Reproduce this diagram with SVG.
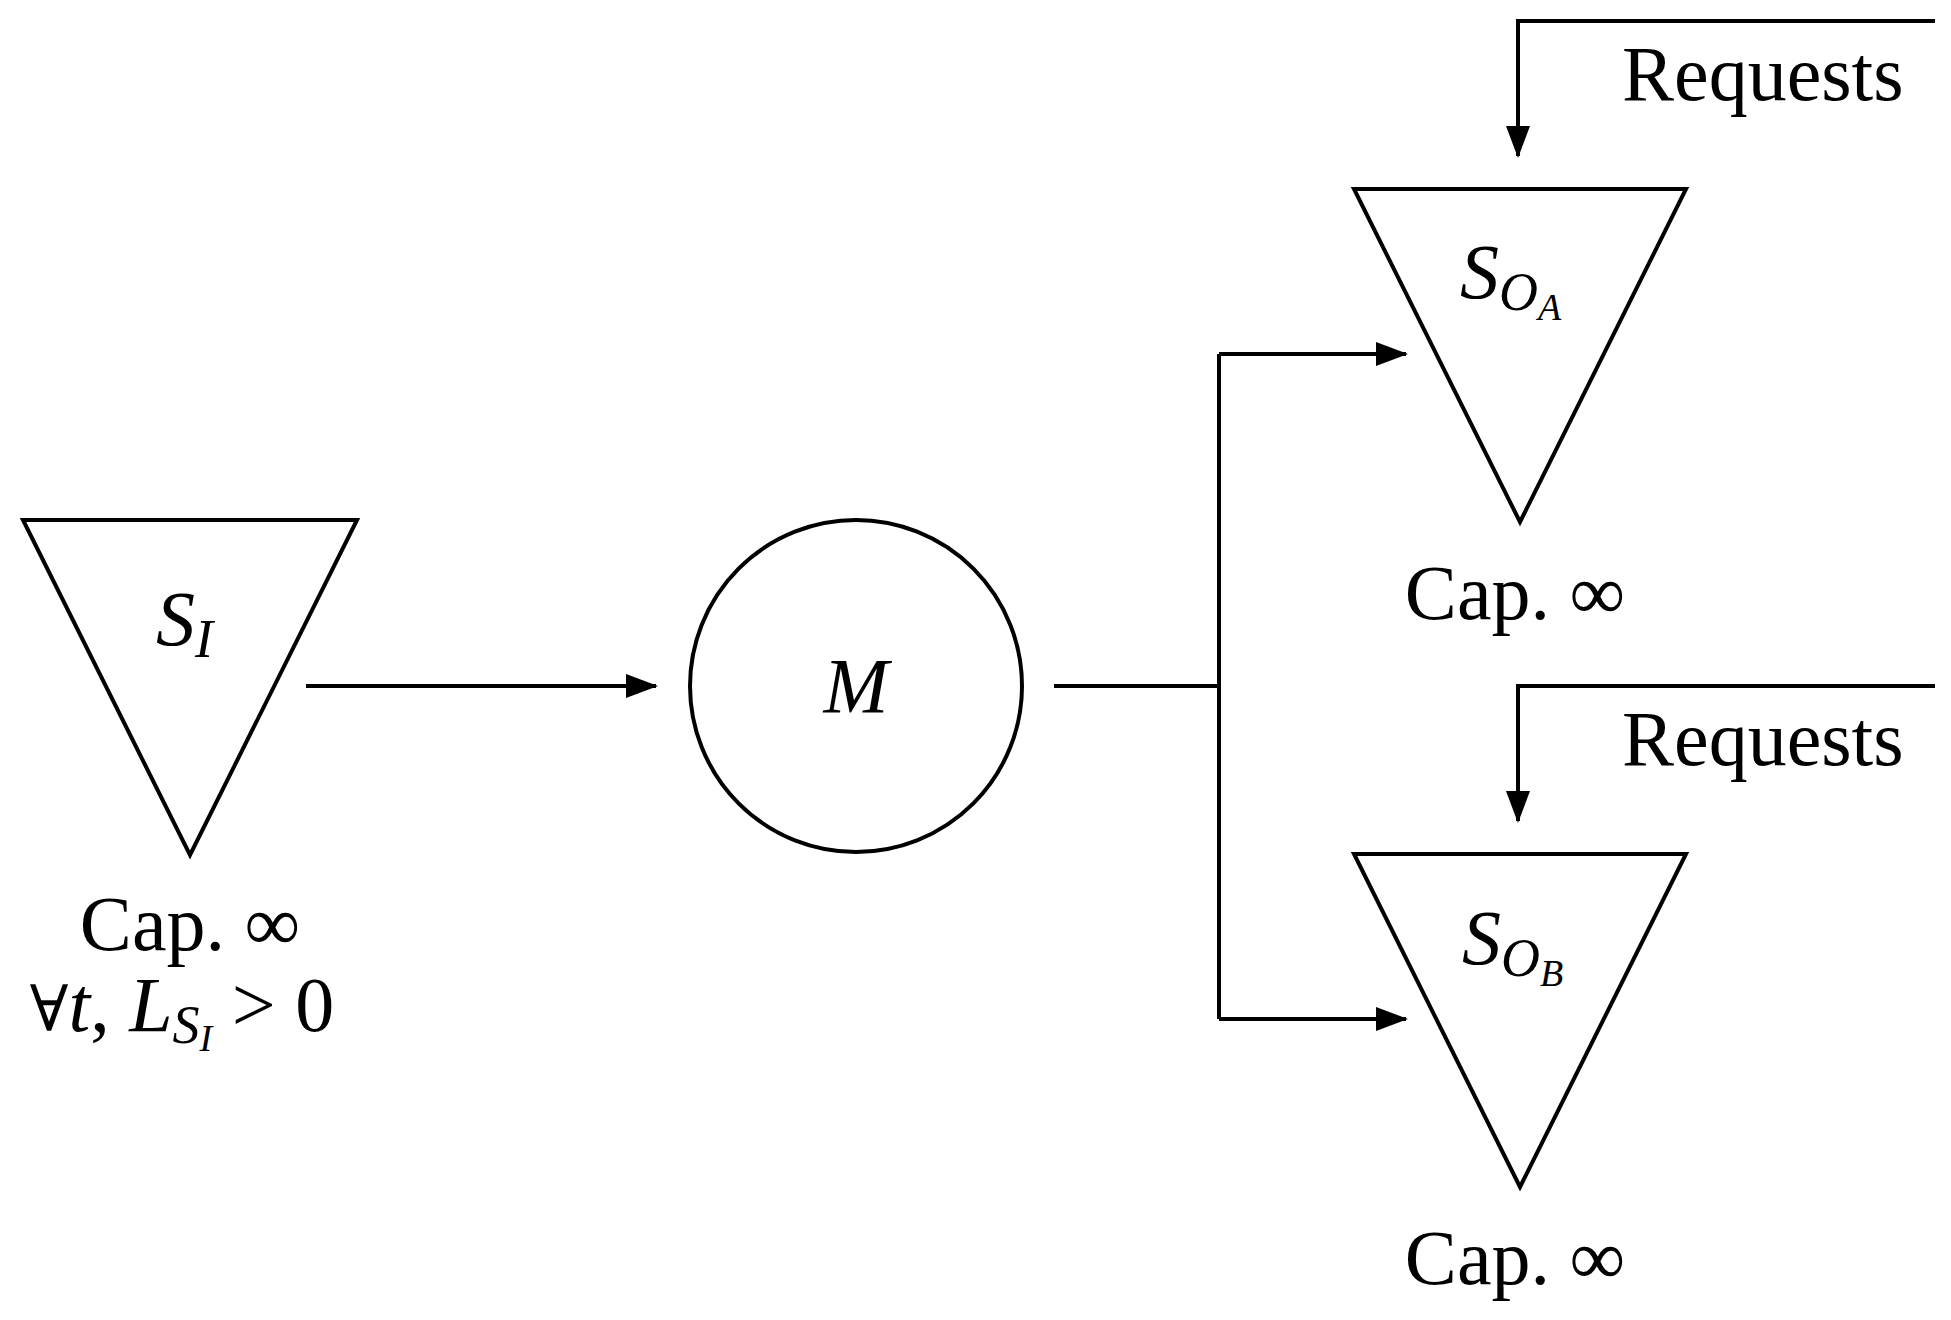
<svg xmlns="http://www.w3.org/2000/svg" width="1951" height="1320" viewBox="0 0 1951 1320">
<style>
.s{fill:none;stroke:#000;stroke-width:4}
.t{font-family:"Liberation Serif",serif;font-size:78px;fill:#000}
.i{font-style:italic}
</style>
<defs><marker id="a" markerUnits="userSpaceOnUse" markerWidth="40" markerHeight="30" refX="32" refY="12" orient="auto" overflow="visible"><path d="M2,0 L34,12 L2,24 Z" fill="#000"/></marker></defs>
<rect width="1951" height="1320" fill="#fff"/>
<g id="SI">
<polygon class="s" points="23,520 357,520 190,855"/>
<text class="t i" x="156" y="645">S<tspan font-size="54" dy="12">I</tspan></text>
<text class="t" x="190" y="950" text-anchor="middle">Cap. ∞</text>
<text class="t" x="182" y="1031" text-anchor="middle"><tspan font-family="DejaVu Serif" font-size="64">∀</tspan><tspan class="i">t</tspan>, <tspan class="i">L</tspan><tspan class="i" font-size="54" dy="12">S</tspan><tspan class="i" font-size="38" dy="8">I</tspan><tspan dy="-20"> &gt; 0</tspan></text>
</g>
<g id="M">
<circle class="s" cx="856" cy="686" r="166"/>
<text class="t i" x="856" y="712" text-anchor="middle">M</text>
</g>
<g id="SOA">
<polygon class="s" points="1354,189 1686,189 1520,522"/>
<text class="t i" x="1460" y="298">S<tspan font-size="54" dy="12">O</tspan><tspan font-size="38" dy="10">A</tspan></text>
<text class="t" x="1515" y="619" text-anchor="middle">Cap. ∞</text>
</g>
<g id="SOB">
<polygon class="s" points="1354,854 1686,854 1520,1187"/>
<text class="t i" x="1462" y="964">S<tspan font-size="54" dy="12">O</tspan><tspan font-size="38" dy="10">B</tspan></text>
<text class="t" x="1515" y="1284" text-anchor="middle">Cap. ∞</text>
</g>
<g id="labels">
<text class="t" x="1622" y="100">Requests</text>
<text class="t" x="1622" y="765">Requests</text>
</g>
<g id="connectors" class="s">
<path d="M306,686 H656" marker-end="url(#a)"/>
<path d="M1054,686 H1219 M1219,354 V1019"/>
<path d="M1219,354 H1406" marker-end="url(#a)"/>
<path d="M1219,1019 H1406" marker-end="url(#a)"/>
<path d="M1935,21 H1518 V156" marker-end="url(#a)"/>
<path d="M1935,686 H1518 V821" marker-end="url(#a)"/>
</g>
</svg>
